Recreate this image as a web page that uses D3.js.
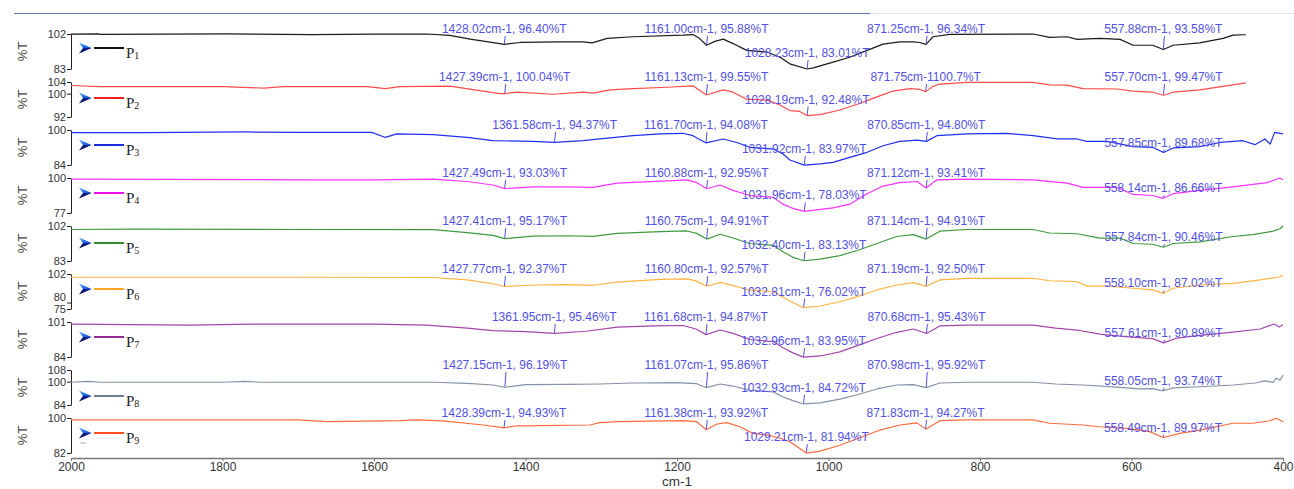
<!DOCTYPE html>
<html>
<head>
<meta charset="utf-8">
<script src="https://cdn.jsdelivr.net/npm/d3@7"></script>
<style>
	html, body { margin: 0; padding: 0; background: #fff; }
	svg { display: block; }
</style>
</head>
<body>
<svg id="chart" width="1294" height="489"></svg>
<script>
// ── Data: 9 stacked FTIR spectra, %T against wavenumber (cm-1) ──

const SERIES = ['P1', 'P2', 'P3', 'P4', 'P5', 'P6', 'P7', 'P8', 'P9'];
const X_TICKS = [2000, 1800, 1600, 1400, 1200, 1000, 800, 600, 400];

const Y_DOMAINS = [[83, 102], [92, 104], [84, 100], [77, 100], [83, 102], [75, 102], [84, 101], [84, 108], [82, 100]];
const Y_TICKS = [[102, 83], [104, 100, 92], [100, 84], [100, 77], [102, 83], [102, 80, 75], [101, 84], [108, 100, 84], [100, 82]];

const P1_DATA = [[2000, 101.9], [1964, 102.1], [1962, 101.8], [1880, 101.9], [1794, 102.1], [1760, 101.9], [1682, 101.7], [1600, 101.9], [1530, 102.0], [1500, 101.3], [1473, 99.2], [1434, 96.8], [1428.02, 96.40], [1407, 97.4], [1354, 97.7], [1324, 97.7], [1312, 97.2], [1292, 99.6], [1258, 100.5], [1192, 101.4], [1179, 101.7], [1170, 99.5], [1161.00, 95.88], [1150, 98.0], [1139, 99.2], [1126, 96.8], [1108, 93.1], [1081, 92.2], [1064, 89.4], [1051, 85.8], [1028.23, 83.01], [1020, 83.6], [994, 86.7], [972, 89.4], [949, 93.1], [928, 96.5], [906, 97.7], [888, 97.7], [880, 97.4], [871.25, 96.34], [862, 100.5], [840, 101.8], [730, 102.0], [708, 100.2], [685, 100.5], [672, 99.1], [642, 99.6], [615, 99.1], [598, 95.9], [572, 95.9], [557.88, 93.58], [545, 95.9], [510, 97.2], [479, 99.6], [466, 101.4], [449, 101.6]];
const P2_DATA = [[2000, 102.8], [1962, 102.4], [1799, 102.4], [1745, 101.9], [1720, 102.4], [1698, 102.4], [1609, 102.4], [1585, 101.7], [1566, 102.4], [1500, 102.6], [1434, 100.0], [1427.39, 100.04], [1411, 100.5], [1364, 99.8], [1324, 100.5], [1311, 100.2], [1288, 101.3], [1258, 101.7], [1213, 102.2], [1179, 102.7], [1161.13, 99.55], [1139, 101.3], [1126, 100.5], [1108, 98.1], [1081, 97.8], [1064, 96.1], [1051, 94.2], [1038, 93.9], [1028.19, 92.48], [1011, 92.8], [985, 94.4], [958, 96.7], [936, 98.9], [915, 100.9], [892, 101.7], [880, 101.5], [871.75, 100.7], [862, 102.5], [853, 103.3], [817, 103.9], [730, 103.9], [708, 103.0], [685, 102.9], [664, 101.7], [619, 101.6], [598, 100.9], [572, 100.5], [557.70, 99.47], [545, 100.5], [510, 101.3], [466, 103.0], [449, 103.7]];
const P3_DATA = [[2000, 98.8], [1900, 98.8], [1770, 99.1], [1700, 98.9], [1603, 98.9], [1585, 96.6], [1570, 98.2], [1522, 97.9], [1477, 96.6], [1443, 95.1], [1390, 94.8], [1361.58, 94.37], [1324, 95.1], [1302, 95.9], [1258, 97.4], [1222, 98.2], [1192, 98.5], [1179, 97.4], [1161.70, 94.08], [1139, 95.9], [1121, 94.3], [1104, 92.1], [1073, 91.3], [1060, 89.0], [1051, 86.3], [1031.92, 83.97], [1011, 84.5], [994, 85.2], [972, 87.5], [949, 89.8], [928, 92.8], [906, 94.8], [883, 95.4], [870.85, 94.80], [857, 97.4], [817, 98.2], [764, 98.5], [730, 97.4], [698, 95.9], [672, 95.9], [659, 94.8], [632, 94.8], [598, 92.4], [572, 92.1], [557.85, 89.68], [545, 91.8], [510, 92.4], [483, 94.3], [453, 95.1], [437, 93.3], [424, 95.9], [417, 93.6], [411, 98.9], [400, 98.2]];
const P4_DATA = [[2000, 99.3], [1684, 98.8], [1600, 98.8], [1522, 99.3], [1477, 97.7], [1443, 95.4], [1427.49, 93.03], [1390, 94.2], [1345, 94.2], [1311, 93.8], [1279, 96.6], [1213, 98.1], [1187, 98.8], [1174, 97.0], [1160.88, 92.95], [1143, 95.4], [1126, 91.9], [1104, 88.5], [1073, 87.3], [1060, 82.8], [1047, 80.0], [1031.96, 78.03], [994, 80.4], [972, 82.8], [949, 89.7], [928, 94.7], [906, 97.0], [883, 97.7], [871.12, 93.41], [857, 98.8], [817, 99.3], [730, 98.8], [685, 96.6], [664, 93.8], [619, 93.8], [598, 89.2], [572, 88.5], [558.14, 86.66], [545, 89.7], [510, 91.9], [466, 94.2], [421, 97.0], [404, 100.0], [400, 98.8]];
const P5_DATA = [[2000, 100.1], [1918, 100.3], [1700, 100.1], [1522, 100.0], [1477, 98.4], [1443, 96.9], [1427.41, 95.17], [1390, 96.5], [1345, 96.7], [1311, 96.4], [1279, 98.0], [1222, 99.0], [1187, 99.3], [1174, 98.0], [1160.75, 94.91], [1143, 97.5], [1126, 95.5], [1104, 92.5], [1073, 91.5], [1060, 88.0], [1047, 85.0], [1032.40, 83.13], [1011, 83.97], [985, 85.9], [962, 88.7], [936, 92.5], [910, 96.3], [888, 97.3], [871.14, 94.91], [853, 99.2], [817, 100.1], [730, 100.1], [708, 98.2], [672, 97.8], [642, 95.4], [615, 95.4], [598, 92.5], [572, 92.1], [557.84, 90.46], [545, 92.5], [510, 93.4], [466, 96.3], [440, 97.3], [413, 99.2], [404, 100.5], [400, 102.0]];
const P6_DATA = [[2000, 99.5], [1700, 99.5], [1522, 99.3], [1477, 97.5], [1443, 94.5], [1427.77, 92.37], [1390, 93.5], [1345, 93.8], [1311, 93.3], [1279, 95.8], [1222, 97.8], [1187, 98.3], [1174, 96.5], [1160.80, 92.57], [1143, 95.5], [1126, 93.0], [1104, 89.5], [1073, 88.5], [1060, 84.0], [1047, 80.0], [1032.81, 76.02], [1011, 77.3], [985, 80.6], [962, 84.5], [936, 89.7], [910, 93.5], [888, 95.3], [871.19, 92.50], [853, 97.4], [817, 98.7], [730, 98.7], [708, 96.8], [672, 96.1], [659, 92.7], [632, 92.7], [598, 91.0], [572, 89.7], [558.10, 87.02], [545, 91.0], [510, 93.5], [466, 94.8], [430, 97.4], [404, 99.9], [400, 101.2]];
const P7_DATA = [[2000, 100.0], [1843, 99.5], [1761, 100.0], [1600, 100.0], [1530, 99.5], [1477, 98.0], [1443, 96.8], [1400, 96.3], [1361.95, 95.46], [1320, 96.5], [1279, 98.5], [1230, 99.1], [1192, 99.3], [1174, 97.5], [1161.68, 94.87], [1143, 97.1], [1126, 95.5], [1104, 92.5], [1073, 91.5], [1060, 88.5], [1047, 86.0], [1032.96, 83.95], [1011, 84.5], [985, 86.5], [962, 89.5], [936, 93.0], [910, 96.0], [888, 97.6], [870.68, 95.43], [853, 99.1], [817, 99.5], [730, 99.5], [700, 98.0], [672, 97.1], [640, 95.0], [600, 93.7], [572, 92.9], [557.61, 90.89], [540, 93.2], [510, 94.5], [466, 96.1], [430, 97.6], [412, 100.0], [405, 98.6], [400, 99.8]];
const P8_DATA = [[2000, 99.6], [1978, 100.2], [1960, 99.6], [1800, 99.6], [1770, 100.2], [1750, 99.6], [1522, 99.6], [1477, 98.8], [1443, 97.7], [1427.15, 96.19], [1400, 98.0], [1345, 98.2], [1302, 98.4], [1258, 99.1], [1200, 99.3], [1174, 98.6], [1161.07, 95.86], [1143, 98.4], [1126, 97.0], [1104, 94.0], [1073, 93.0], [1060, 89.5], [1047, 87.0], [1032.93, 84.72], [1011, 85.5], [985, 88.0], [962, 91.0], [936, 95.0], [910, 97.7], [888, 98.0], [870.98, 95.92], [853, 99.1], [817, 99.6], [730, 99.6], [700, 98.4], [664, 97.7], [619, 96.3], [590, 95.0], [572, 95.2], [558.05, 93.74], [545, 95.7], [510, 96.5], [466, 97.7], [437, 99.1], [424, 100.5], [413, 99.5], [409, 102.5], [404, 101.0], [400, 104.5]];
const P9_DATA = [[2000, 99.0], [1700, 99.0], [1662, 98.1], [1566, 98.6], [1543, 99.0], [1509, 98.5], [1456, 96.4], [1428.39, 94.93], [1411, 96.0], [1315, 96.4], [1302, 97.6], [1279, 98.1], [1192, 98.6], [1174, 98.1], [1161.38, 93.92], [1147, 96.9], [1134, 97.6], [1117, 95.5], [1100, 92.1], [1081, 91.3], [1064, 89.6], [1051, 87.8], [1029.21, 81.94], [1011, 83.0], [985, 86.0], [958, 90.0], [932, 93.8], [906, 96.4], [883, 97.5], [871.83, 94.27], [853, 98.6], [817, 99.0], [730, 99.0], [708, 97.3], [664, 96.4], [642, 95.5], [606, 94.7], [576, 93.0], [558.49, 89.97], [536, 92.1], [510, 93.8], [466, 97.3], [440, 97.3], [417, 98.6], [409, 99.9], [400, 98.1]];
const SPECTRA = [P1_DATA, P2_DATA, P3_DATA, P4_DATA, P5_DATA, P6_DATA, P7_DATA, P8_DATA, P9_DATA];

// Picked peaks: [wavenumber, %T, label as printed by the instrument software]
const P1_PEAKS = [[1428.02, 96.40, '1428.02cm-1, 96.40%T'], [1161.00, 95.88, '1161.00cm-1, 95.88%T'], [1028.23, 83.01, '1028.23cm-1, 83.01%T'], [871.25, 96.34, '871.25cm-1, 96.34%T'], [557.88, 93.58, '557.88cm-1, 93.58%T']];
const P2_PEAKS = [[1427.39, 100.04, '1427.39cm-1, 100.04%T'], [1161.13, 99.55, '1161.13cm-1, 99.55%T'], [1028.19, 92.48, '1028.19cm-1, 92.48%T'], [871.75, 100.7, '871.75cm-1100.7%T'], [557.70, 99.47, '557.70cm-1, 99.47%T']];
const P3_PEAKS = [[1361.58, 94.37, '1361.58cm-1, 94.37%T'], [1161.70, 94.08, '1161.70cm-1, 94.08%T'], [1031.92, 83.97, '1031.92cm-1, 83.97%T'], [870.85, 94.80, '870.85cm-1, 94.80%T'], [557.85, 89.68, '557.85cm-1, 89.68%T']];
const P4_PEAKS = [[1427.49, 93.03, '1427.49cm-1, 93.03%T'], [1160.88, 92.95, '1160.88cm-1, 92.95%T'], [1031.96, 78.03, '1031.96cm-1, 78.03%T'], [871.12, 93.41, '871.12cm-1, 93.41%T'], [558.14, 86.66, '558.14cm-1, 86.66%T']];
const P5_PEAKS = [[1427.41, 95.17, '1427.41cm-1, 95.17%T'], [1160.75, 94.91, '1160.75cm-1, 94.91%T'], [1032.40, 83.13, '1032.40cm-1, 83.13%T'], [871.14, 94.91, '871.14cm-1, 94.91%T'], [557.84, 90.46, '557.84cm-1, 90.46%T']];
const P6_PEAKS = [[1427.77, 92.37, '1427.77cm-1, 92.37%T'], [1160.80, 92.57, '1160.80cm-1, 92.57%T'], [1032.81, 76.02, '1032.81cm-1, 76.02%T'], [871.19, 92.50, '871.19cm-1, 92.50%T'], [558.10, 87.02, '558.10cm-1, 87.02%T']];
const P7_PEAKS = [[1361.95, 95.46, '1361.95cm-1, 95.46%T'], [1161.68, 94.87, '1161.68cm-1, 94.87%T'], [1032.96, 83.95, '1032.96cm-1, 83.95%T'], [870.68, 95.43, '870.68cm-1, 95.43%T'], [557.61, 90.89, '557.61cm-1, 90.89%T']];
const P8_PEAKS = [[1427.15, 96.19, '1427.15cm-1, 96.19%T'], [1161.07, 95.86, '1161.07cm-1, 95.86%T'], [1032.93, 84.72, '1032.93cm-1, 84.72%T'], [870.98, 95.92, '870.98cm-1, 95.92%T'], [558.05, 93.74, '558.05cm-1, 93.74%T']];
const P9_PEAKS = [[1428.39, 94.93, '1428.39cm-1, 94.93%T'], [1161.38, 93.92, '1161.38cm-1, 93.92%T'], [1029.21, 81.94, '1029.21cm-1, 81.94%T'], [871.83, 94.27, '871.83cm-1, 94.27%T'], [558.49, 89.97, '558.49cm-1, 89.97%T']];
const PEAKS = [P1_PEAKS, P2_PEAKS, P3_PEAKS, P4_PEAKS, P5_PEAKS, P6_PEAKS, P7_PEAKS, P8_PEAKS, P9_PEAKS];

// ── Layout / style ──

const W = 1294, H = 489;
const PLOT_LEFT = 71, PLOT_RIGHT = 1283;
const PANEL_TOP = 34, PANEL_STEP = 48, PANEL_H = 35;
const AXIS_Y = 458;
const LEGEND_DY = [14, 16, 15, 15, 17, 15, 15, 26, 15];   // legend line, below panel top
const LINE_COLORS = ['#1a1a1a', '#ff4a4a', '#1f2ff0', '#ff30ff', '#3f9a3f', '#ffb340', '#a446a8', '#8493a6', '#ff6a3c'];
const LEGEND_COLORS = ['#111111', '#ee2020', '#1a2ae0', '#ee10ee', '#2f8f2f', '#ffa520', '#8e2a92', '#6f7f92', '#ff5020'];
const LABEL_COLOR = '#5050f0';
const SANS = '"Liberation Sans", Arial, sans-serif';
const SERIF = '"Liberation Serif", "Times New Roman", serif';
const DEEP = 2, SIDE = 4;          // peak slots whose label follows the curve
const SIDE_ON_TOP = [0, 1];        // panels where the ~558 label sits on the top row

const svg = d3.select('#chart').attr('viewBox', `0 0 ${W} ${H}`);
const x = d3.scaleLinear().domain([2000, 400]).range([PLOT_LEFT, PLOT_RIGHT]);

const defs = svg.append('defs');
const grad = defs.append('linearGradient')
	.attr('id', 'legend-arrow').attr('x1', 0).attr('y1', 0).attr('x2', 0).attr('y2', 1);
grad.append('stop').attr('offset', '0%').attr('stop-color', '#52b4ff');
grad.append('stop').attr('offset', '45%').attr('stop-color', '#1b5fe0');
grad.append('stop').attr('offset', '55%').attr('stop-color', '#0a1c8c');
grad.append('stop').attr('offset', '100%').attr('stop-color', '#000040');

// window frame line across the top
svg.append('line').attr('x1', 14).attr('x2', 870).attr('y1', 13.5).attr('y2', 13.5)
	.attr('stroke', '#5a74b0').attr('stroke-width', 1);
svg.append('line').attr('x1', 870).attr('x2', W).attr('y1', 13.5).attr('y2', 13.5)
	.attr('stroke', '#dde2ea').attr('stroke-width', 1);

const line = d3.line().x((d) => x(d[0])).y((d) => d[1]);

SERIES.forEach((name, i) => {
	const top = PANEL_TOP + i * PANEL_STEP;
	const y = d3.scaleLinear().domain(Y_DOMAINS[i]).range([top + PANEL_H, top]);
	const g = svg.append('g').attr('class', 'panel');

	// y axis with nudging of labels that would collide
	const ax = g.append('g')
		.attr('transform', `translate(${PLOT_LEFT},0)`)
		.call(d3.axisLeft(y).tickValues(Y_TICKS[i]).tickSize(4).tickPadding(1).tickSizeOuter(0));
	ax.attr('font-family', SANS).attr('font-size', 11);
	ax.select('.domain').attr('stroke', '#222');
	ax.selectAll('.tick line').attr('stroke', '#222');
	ax.selectAll('.tick text').attr('fill', '#333').attr('y', (v) => {
		const below = Y_TICKS[i].map((t) => y(t)).filter((p) => p > y(v));
		if (!below.length) return 0;
		const gap = d3.min(below) - y(v);
		return gap < 11 ? -(12 - gap) : 0;
	});

	g.append('text')
		.attr('transform', `translate(22,${top + PANEL_H / 2}) rotate(-90)`)
		.attr('text-anchor', 'middle').attr('dominant-baseline', 'central')
		.attr('font-family', SANS).attr('font-size', 13).attr('fill', '#444')
		.text('%T');

	// spectrum
	const pts = SPECTRA[i].slice().sort((a, b) => b[0] - a[0]).map((d) => [d[0], y(d[1])]);
	g.append('path')
		.attr('d', line(pts))
		.attr('fill', 'none').attr('stroke', LINE_COLORS[i]).attr('stroke-width', 1.2)
		.attr('stroke-linejoin', 'round');

	// legend
	const ly = top + LEGEND_DY[i];
	g.append('path')
		.attr('d', 'M0,-5.5L12.7,0L0,5.5L4,0Z')
		.attr('transform', `translate(79,${ly})`)
		.attr('fill', 'url(#legend-arrow)');
	g.append('line')
		.attr('x1', 94).attr('x2', 124).attr('y1', ly).attr('y2', ly)
		.attr('stroke', LEGEND_COLORS[i]).attr('stroke-width', 2);
	const lt = g.append('text')
		.attr('x', 126).attr('y', ly + 9.6)
		.attr('font-family', SERIF).attr('font-size', 15).attr('fill', '#222');
	lt.append('tspan').text(name.slice(0, 1));
	lt.append('tspan').attr('font-size', 10).attr('dy', 1).text(name.slice(1));
	if (i === SERIES.length - 1) {
		g.append('line').attr('x1', 80).attr('x2', 86).attr('y1', ly + 10).attr('y2', ly + 10)
			.attr('stroke', '#aaa').attr('stroke-width', 1);
	}

	// peak picks
	PEAKS[i].forEach(([w, t, label], k) => {
		const px = x(w), py = y(t);
		let cy;
		if (k === DEEP) cy = py - 16;
		else if (k === SIDE && !SIDE_ON_TOP.includes(i)) cy = py - 10;
		else cy = top - 5;
		g.append('line')
			.attr('x1', px + 1).attr('y1', cy + 7).attr('x2', px).attr('y2', py - 0.5)
			.attr('stroke', LABEL_COLOR).attr('stroke-width', 1);
		g.append('text')
			.attr('x', px).attr('y', cy)
			.attr('text-anchor', 'middle').attr('dominant-baseline', 'central')
			.attr('font-family', SANS).attr('font-size', 12).attr('fill', LABEL_COLOR)
			.text(label);
	});
});

// ── shared wavenumber axis ──
const xa = svg.append('g')
	.attr('transform', `translate(0,${AXIS_Y})`)
	.call(d3.axisBottom(x).tickValues(X_TICKS).tickFormat(d3.format('d')).tickSize(3).tickPadding(1).tickSizeOuter(0));
xa.attr('font-family', SANS).attr('font-size', 12);
xa.select('.domain').attr('stroke', '#777').attr('stroke-width', 1.5);
xa.selectAll('.tick line').attr('stroke', '#777');
xa.selectAll('.tick text').attr('fill', '#333');

svg.append('text')
	.attr('x', (PLOT_LEFT + PLOT_RIGHT) / 2).attr('y', 485.5)
	.attr('text-anchor', 'middle')
	.attr('font-family', SANS).attr('font-size', 13.5).attr('fill', '#333')
	.text('cm-1');
</script>
</body>
</html>
